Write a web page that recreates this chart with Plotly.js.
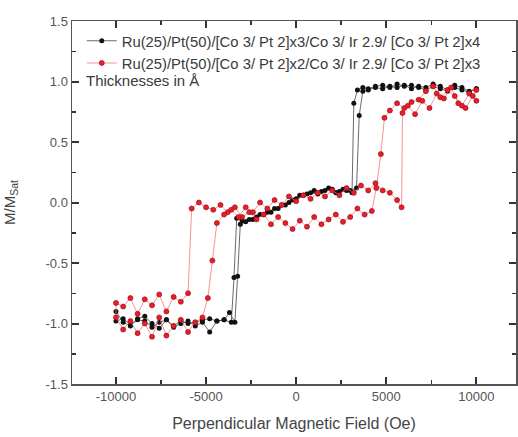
<!DOCTYPE html>
<html>
<head>
<meta charset="utf-8">
<script src="https://cdn.plot.ly/plotly-3.0.1.min.js"></script>
<style>html,body{margin:0;padding:0;background:#fff;}#chart{width:518px;height:437px;}</style>
</head>
<body>
<div id="chart"></div>
<script>
// Sample 1 (black): descending branch then ascending branch
const blackField = [
  10000, 9600, 9200, 8800, 8400, 8000, 7600, 7200, 6800, 6400, 6000, 5600, 5200, 4800, 4400, 4000, 3700, 3500, 3350, 3000, 2600, 2200, 1800, 1400, 1000, 600, 200, -200, -600, -1000, -1400, -1800, -2200, -2600, -3000, -3300, -3450, -3600, -4000, -4400, -4800, -5200, -5600, -6000, -6400, -6800, -7200, -7600, -8000, -8400, -8800, -9200, -9600, -10000,
  -10000, -9600, -9200, -8800, -8400, -8000, -7600, -7200, -6800, -6400, -6000, -5600, -5200, -4800, -4400, -4000, -3700, -3400, -3250, -3100, -2800, -2400, -2000, -1600, -1200, -800, -400, 0, 400, 800, 1200, 1600, 2000, 2400, 2800, 3100, 3200, 3400, 3700, 4000, 4400, 4800, 5200, 5600, 6000, 6400, 6800, 7200, 7600, 8000, 8400, 8800, 9200, 9600, 10000
];
const blackM = [
  0.94, 0.92, 0.95, 0.97, 0.93, 0.96, 0.98, 0.95, 0.96, 0.94, 0.97, 0.95, 0.96, 0.94, 0.95, 0.93, 0.92, 0.72, 0.12, 0.10, 0.11, 0.08, 0.12, 0.09, 0.10, 0.07, 0.06, 0.02, -0.02, -0.05, -0.08, -0.10, -0.12, -0.14, -0.15, -0.13, -0.62, -0.99, -0.97, -0.98, -0.96, -0.97, -0.99, -1.00, -0.98, -1.02, -0.97, -0.99, -1.03, -0.98, -0.97, -1.01, -0.96, -0.98,
  -0.90, -0.99, -1.02, -0.96, -0.94, -1.00, -1.04, -0.97, -1.03, -1.00, -0.98, -1.02, -0.99, -1.07, -0.98, -0.97, -0.91, -0.99, -0.61, -0.18, -0.16, -0.14, -0.10, -0.08, -0.05, -0.02, 0.00, 0.03, 0.06, 0.08, 0.07, 0.10, 0.11, 0.09, 0.10, 0.08, 0.82, 0.93, 0.95, 0.94, 0.96, 0.97, 0.95, 0.98, 0.96, 0.97, 0.95, 0.93, 0.96, 0.94, 0.92, 0.95, 0.93, 0.91, 0.94
];
// Sample 2 (red): descending branch then ascending branch
const redField = [
  10000, 9600, 9200, 8800, 8400, 8000, 7600, 7200, 6800, 6400, 6000, 5600, 5200, 4900, 4700, 4450, 4200, 3800, 3400, 3000, 2600, 2200, 1800, 1400, 1000, 600, 200, -200, -600, -1000, -1400, -1800, -2200, -2600, -3000, -3400, -3800, -4200, -4600, -5000, -5400, -5800, -6000, -6400, -6800, -7200, -7600, -8000, -8400, -8800, -9200, -9600, -10000,
  -10000, -9600, -9200, -8800, -8400, -8000, -7600, -7200, -6800, -6400, -6000, -5600, -5200, -4900, -4650, -4400, -4000, -3600, -3200, -2800, -2400, -2000, -1600, -1200, -800, -400, 0, 400, 800, 1200, 1600, 2000, 2400, 2800, 3200, 3600, 4000, 4400, 4800, 5200, 5600, 5850, 5900, 6200, 6600, 7000, 7400, 7800, 8200, 8600, 9000, 9400, 9800, 10000
];
const redM = [
  0.84, 0.90, 0.80, 0.88, 0.93, 0.87, 0.96, 0.92, 0.85, 0.83, 0.78, 0.82, 0.76, 0.70, 0.40, 0.12, -0.07, -0.10, -0.05, -0.12, -0.16, -0.10, -0.14, -0.18, -0.12, -0.20, -0.15, -0.22, -0.17, -0.12, -0.18, -0.10, -0.14, -0.08, -0.12, -0.04, -0.08, -0.02, -0.06, -0.04, 0.00, -0.05, -0.75, -0.82, -0.78, -0.90, -0.76, -0.85, -0.80, -0.92, -0.79, -0.86, -0.83,
  -0.95, -1.05, -0.98, -1.08, -1.00, -1.11, -0.95, -1.10, -1.02, -0.97, -1.07, -0.99, -0.95, -0.79, -0.48, -0.17, -0.10, -0.06, -0.12, -0.04, -0.08, 0.00, -0.05, 0.02, -0.02, 0.05, 0.01, 0.06, 0.03, 0.08, 0.05, 0.10, 0.06, 0.12, 0.08, 0.14, 0.10, 0.16, 0.10, 0.08, 0.02, -0.04, 0.74, 0.80, 0.73, 0.84, 0.78, 0.90, 0.86, 0.95, 0.82, 0.78, 0.88, 0.93
];
const seriesNames = [
  "Ru(25)/Pt(50)/[Co 3/ Pt 2]x3/Co 3/ Ir 2.9/ [Co 3/ Pt 2]x4",
  "Ru(25)/Pt(50)/[Co 3/ Pt 2]x2/Co 3/ Ir 2.9/ [Co 3/ Pt 2]x3"
];
// tick labels as printed (ASCII hyphen for negatives)
const xTickText = ["-10000", "-5000"];
const yTickText = ["-1.5", "-1.0", "-0.5"];
const noteText = "Thicknesses in Å";

// Plotly prints negatives with U+2212; alias them to the figure's hyphen labels
function aliasMap(labels) {
  const m = {};
  labels.forEach(t => { m['\u2212' + t.slice(1)] = t; });
  return m;
}

const FONT = "Liberation Sans, Arial, sans-serif";
const AXC = '#555555';
const TKC = '#333333';

const traces = [
  {x: blackField, y: blackM, name: seriesNames[0], type: 'scatter', mode: 'lines+markers',
   line: {color: '#444', width: 0.8}, marker: {color: '#111', size: 5}},
  {x: redField, y: redM, name: seriesNames[1], type: 'scatter', mode: 'lines+markers',
   line: {color: '#f07a7a', width: 0.8}, marker: {color: '#ee1c2a', size: 5, line: {color: '#9a1018', width: 0.7}}}
];

const layout = {
  width: 518, height: 437,
  margin: {l: 72, r: 2, t: 21, b: 53},
  paper_bgcolor: '#fff', plot_bgcolor: '#fff',
  font: {family: FONT, color: '#444'},
  showlegend: true,
  legend: {x: 0.022, y: 0.99, xanchor: 'left', yanchor: 'top', bgcolor: 'rgba(0,0,0,0)',
           font: {family: FONT, size: 14.8, color: '#3a3a3a'}, tracegroupgap: 0},
  xaxis: {
    range: [-12440, 12200], tickmode: 'linear', tick0: 0, dtick: 5000, tickformat: 'd',
    labelalias: aliasMap(xTickText),
    showline: true, linecolor: AXC, linewidth: 1.5, mirror: 'ticks',
    ticks: 'inside', ticklen: 7, tickwidth: 2, tickcolor: TKC,
    minor: {ticks: 'inside', ticklen: 4, tickwidth: 1.5, tickcolor: TKC, dtick: 2500, tick0: 0},
    showgrid: false, zeroline: false,
    tickfont: {family: FONT, size: 13, color: '#555'},
    title: {text: 'Perpendicular Magnetic Field (Oe)', font: {family: FONT, size: 16, color: '#444'}, standoff: 14}
  },
  yaxis: {
    range: [-1.5, 1.5], tickmode: 'linear', tick0: 0, dtick: 0.5, tickformat: '.1f',
    labelalias: aliasMap(yTickText),
    showline: true, linecolor: AXC, linewidth: 1.5, mirror: 'ticks',
    ticks: 'inside', ticklen: 7, tickwidth: 2, tickcolor: TKC,
    minor: {ticks: 'inside', ticklen: 4, tickwidth: 1.5, tickcolor: TKC, dtick: 0.25, tick0: 0},
    showgrid: false, zeroline: false,
    tickfont: {family: FONT, size: 13, color: '#555'},
    title: {text: 'M/M<sub>Sat</sub>', font: {family: FONT, size: 15, color: '#444'}, standoff: 26}
  },
  annotations: [{
    text: noteText, xref: 'paper', yref: 'paper', x: 0.028, y: 0.835, xanchor: 'left', yanchor: 'middle',
    showarrow: false, font: {family: FONT, size: 15, color: '#3a3a3a'}
  }]
};

Plotly.newPlot('chart', traces, layout, {displayModeBar: false, staticPlot: true});
</script>
</body>
</html>
